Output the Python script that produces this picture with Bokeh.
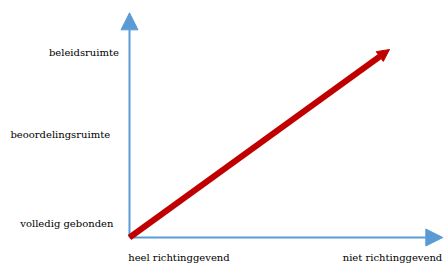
from bokeh.plotting import figure
from bokeh.models import Arrow, NormalHead, Range1d, ColumnDataSource
from bokeh.core.properties import value
from bokeh.embed import file_html
from bokeh.resources import INLINE

# Data
y_labels = ["beleidsruimte", "beoordelingsruimte", "volledig gebonden"]
x_labels = ["heel richtinggevend", "niet richtinggevend"]
trend_x = [0.0, 1.0]
trend_y = [0.0, 1.0]

# layout (data units: origin at axis crossing, 1 = arrow tip)
y_label_pos = [0.985, 0.55, 0.075]
y_label_x = [-0.31, -0.458, -0.42]
x_label_pos = [-0.005, 0.82]
x_label_y = -0.104
axis_x_end = 1.205
axis_y_end = 1.195

W, H = 444, 264
ox, oy, sx, sy = 129.0, 237.0, 260.0, 188.0

p = figure(width=W, height=H, output_backend="svg", toolbar_location=None,
           x_range=Range1d(-ox / sx, (W - ox) / sx), y_range=Range1d((oy - H) / sy, oy / sy),
           x_axis_type=None, y_axis_type=None, min_border=0)
p.grid.visible = False
p.outline_line_color = None

blue = "#5B9BD5"
red = "#C00000"

p.add_layout(Arrow(end=NormalHead(size=17, fill_color=blue, line_color=blue),
                   x_start=0, y_start=0, x_end=0, y_end=axis_y_end,
                   line_color=blue, line_width=2))
p.add_layout(Arrow(end=NormalHead(size=17, fill_color=blue, line_color=blue),
                   x_start=0, y_start=0, x_end=axis_x_end, y_end=0,
                   line_color=blue, line_width=2))

p.add_layout(Arrow(end=NormalHead(size=12, fill_color=red, line_color=red),
                   x_start=trend_x[0], y_start=trend_y[0], x_end=trend_x[1], y_end=trend_y[1],
                   line_color=red, line_width=6))

src_y = ColumnDataSource(dict(x=y_label_x, y=y_label_pos, t=y_labels))
p.text(x="x", y="y", text="t", source=src_y, text_font=value("DejaVu Serif"),
       text_font_size="10px", text_color="#000000", text_baseline="middle", text_align="left")

src_x = ColumnDataSource(dict(x=x_label_pos, y=[x_label_y] * 2, t=x_labels))
p.text(x="x", y="y", text="t", source=src_x, text_font=value("DejaVu Serif"),
       text_font_size="10px", text_color="#000000", text_baseline="middle", text_align="left")

open("out.html", "w").write(file_html(p, INLINE))
